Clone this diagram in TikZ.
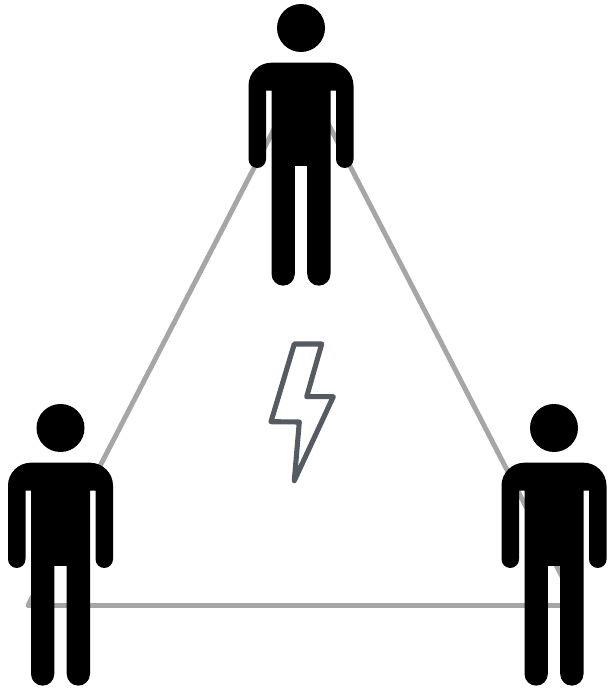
\documentclass[tikz,border=0pt]{standalone}
\usepackage{xcolor}
\definecolor{linkgray}{HTML}{A6A6A6}
\definecolor{boltgray}{HTML}{555B63}
\begin{document}
\begin{tikzpicture}[
      x=0.02cm, y=0.02cm,
      link/.style={draw=linkgray, line width=2.8pt, line join=round},
      bolt/.style={draw=boltgray, line width=2.9pt, line join=round},
      person/.pic={
        \fill (0,0) circle[radius=24];
        \fill (0,-34.7) -- (-29.5,-34.7) arc[start angle=90, end angle=180, radius=23]
          -- (-52.5,-131.25) arc[start angle=180, end angle=360, radius=8.75]
          -- (-35,-62.7) -- (-29.5,-62.7)
          -- (-29.5,-246) arc[start angle=180, end angle=360, radius=11.65]
          -- (-6.2,-138) -- (6.2,-138)
          -- (6.2,-246) arc[start angle=180, end angle=360, radius=11.65]
          -- (29.5,-62.7) -- (35,-62.7)
          -- (35,-131.25) arc[start angle=180, end angle=360, radius=8.75]
          -- (52.5,-57.7) arc[start angle=0, end angle=90, radius=23] -- cycle;
      }
  ]
    \useasboundingbox (0,0) rectangle (610,689);
    \coordinate (apex) at (302.5,615);
    \coordinate (baseL) at (28,83.5);
    \coordinate (baseR) at (577,83.5);
    \draw[link] (apex)--(baseL)--(baseR)--cycle;
    \draw[bolt] (294.3,345)--(321.7,345)--(306.7,292.3)--(333.3,292.3)--(294.3,208.3)
      --(299.3,267)--(271,267.3)--cycle;
    \pic (top) at (301,661) {person};
    \pic (left) at (60.5,261) {person};
    \pic (right) at (554,261) {person};
  \end{tikzpicture}
\end{document}
